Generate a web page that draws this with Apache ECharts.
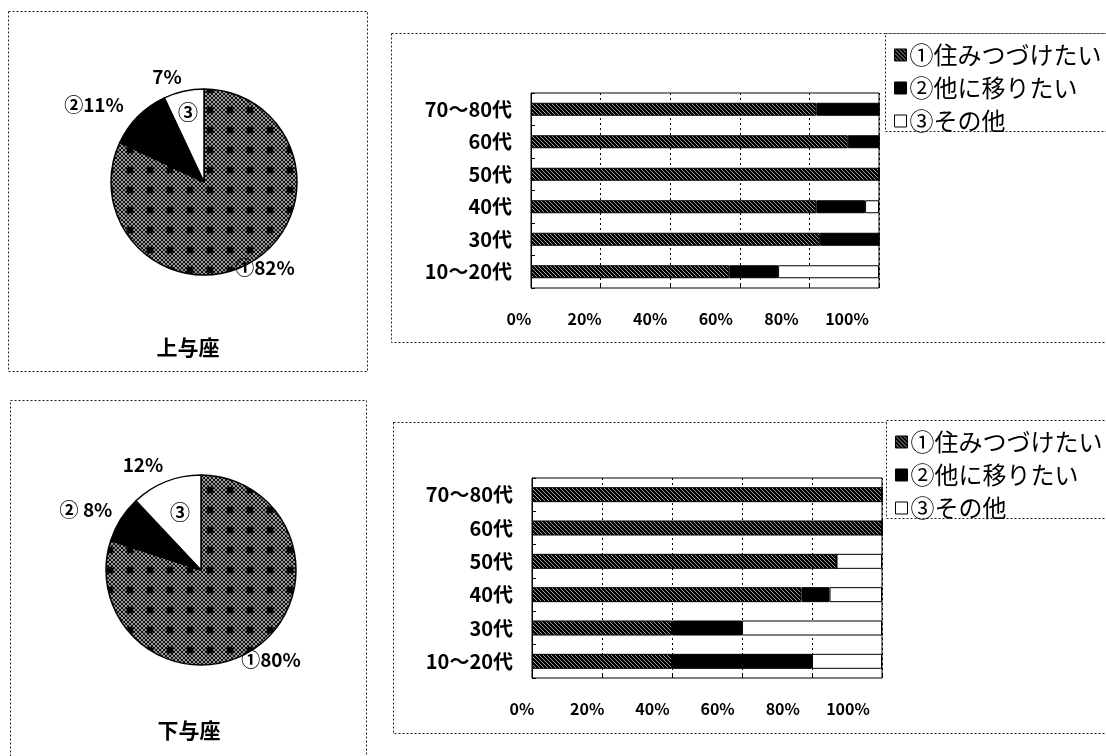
<!DOCTYPE html>
<html>
<head>
<meta charset="utf-8">
<script src="https://cdn.jsdelivr.net/npm/echarts@6/dist/echarts.min.js"></script>
<style>
  html, body { margin: 0; padding: 0; background: #fff; }
  #chart { width: 1106px; height: 756px; }
</style>
</head>
<body>
<div id="chart"></div>
<script>
// Age groups, listed top to bottom
const ageGroups = ['70～80代', '60代', '50代', '40代', '30代', '10～20代'];
const answerNames = ['①住みつづけたい', '②他に移りたい', '③その他'];
const answerMarks = ['①', '②', '③'];
const areaNames = ['上与座', '下与座'];
const percentTicks = [0, 20, 40, 60, 80, 100];

// 上与座: share of each answer per age group (%)
const kamiStay  = [82, 91, 100, 82, 83, 57];
const kamiMove  = [18,  9,   0, 14, 17, 14];
const kamiOther = [ 0,  0,   0,  4,  0, 29];
const kamiTotal = [82, 11, 7];

// 下与座: share of each answer per age group (%)
const shimoStay  = [100, 100, 87, 77, 40, 40];
const shimoMove  = [  0,   0,  0,  8, 20, 40];
const shimoOther = [  0,   0, 13, 15, 40, 20];
const shimoTotal = [80, 8, 12];

const FONT = '"Noto Sans CJK JP", "Noto Sans", sans-serif';

// Fill patterns drawn on small canvases
function barHatch() {
  const c = document.createElement('canvas');
  c.width = c.height = 8;
  const g = c.getContext('2d');
  g.fillStyle = '#000';
  g.fillRect(0, 0, 8, 8);
  g.strokeStyle = '#a0a0a0';
  g.lineWidth = 1;
  g.beginPath();
  for (let k = -8; k <= 16; k += 4) { g.moveTo(k, 0); g.lineTo(k + 8, 8); }
  g.stroke();
  return c;
}
function pieHatch() {
  const s = 20;
  const c = document.createElement('canvas');
  c.width = c.height = s;
  const g = c.getContext('2d');
  g.fillStyle = '#111';
  g.fillRect(0, 0, s, s);
  g.strokeStyle = '#9c9c9c';
  g.lineWidth = 1;
  g.beginPath();
  for (let k = -s; k <= 2 * s; k += 4) {
    g.moveTo(k, 0); g.lineTo(k + s, s);
    g.moveTo(k, s); g.lineTo(k + s, 0);
  }
  g.stroke();
  g.fillStyle = '#000';
  g.beginPath(); g.arc(s / 2, s / 2, 3.6, 0, Math.PI * 2); g.fill();
  return c;
}
const stayBarFill = { image: barHatch(), repeat: 'repeat' };
const stayPieFill = { image: pieHatch(), repeat: 'repeat' };
const answerColors = [stayBarFill, '#000', '#fff'];
const pieColors = [stayPieFill, '#000', '#fff'];

// Layout of the two rows
const rows = [
  {
    stacks: [kamiStay, kamiMove, kamiOther], total: kamiTotal,
    grid: { left: 531, top: 93, width: 348, height: 195 },
    tickGrid: { left: 519, width: 328 }, barWidth: 13,
    pie: { center: [204, 182], r: 93 },
    pieLabelAt: [[265, 268], [94, 105], [167, 77]], innerMarkAt: [188, 112],
    nameAt: [188, 347],
    frames: [[8, 11, 359, 360], [391, 33, 760, 309]],
    legendBox: [885, 33, 260, 98], legendTop: 38
  },
  {
    stacks: [shimoStay, shimoMove, shimoOther], total: shimoTotal,
    grid: { left: 532, top: 478, width: 350, height: 200 },
    tickGrid: { left: 522, width: 326 }, barWidth: 15,
    pie: { center: [201, 570], r: 95 },
    pieLabelAt: [[271, 660], [86, 510], [143, 465]], innerMarkAt: [180, 512],
    nameAt: [189, 730],
    frames: [[10, 400, 356, 400], [393, 422, 760, 311]],
    legendBox: [886, 420, 260, 98], legendTop: 425
  }
];

const grids = [], xAxes = [], yAxes = [], series = [], legends = [], graphics = [];

rows.forEach((row, r) => {
  const gi = grids.length;
  // plot area
  grids.push(Object.assign({ show: true, borderColor: '#000', borderWidth: 1, backgroundColor: '#fff' }, row.grid));
  // strip that carries the percent labels
  grids.push({ left: row.tickGrid.left, width: row.tickGrid.width, top: row.grid.top, height: row.grid.height });

  xAxes.push({
    gridIndex: gi, type: 'value', min: 0, max: 100, interval: 20,
    axisLine: { show: false },
    axisTick: { show: true, inside: true, length: 4, lineStyle: { color: '#000' } },
    axisLabel: { show: false },
    splitLine: { show: true, lineStyle: { color: '#000', type: [2, 3], width: 1 } }
  });
  xAxes.push({
    gridIndex: gi + 1, type: 'value', min: 0, max: 100, interval: 20,
    axisLine: { show: false }, axisTick: { show: false }, splitLine: { show: false },
    axisLabel: {
      margin: 23, color: '#000', fontFamily: FONT, fontWeight: 'bold', fontSize: 16,
      formatter: v => percentTicks.includes(v) ? v + '%' : ''
    }
  });
  yAxes.push({
    gridIndex: gi, type: 'category', data: ageGroups, inverse: true,
    axisLine: { show: true, lineStyle: { color: '#000' } },
    axisTick: { show: true, inside: true, length: 4, lineStyle: { color: '#000' } },
    axisLabel: { margin: 19, color: '#000', fontFamily: FONT, fontWeight: 'bold', fontSize: 20 },
    splitLine: { show: false }
  });
  yAxes.push({ gridIndex: gi + 1, type: 'category', data: ageGroups, show: false });

  row.stacks.forEach((vals, k) => {
    series.push({
      type: 'bar', name: answerNames[k], stack: 'row' + r,
      xAxisIndex: gi, yAxisIndex: gi, barWidth: row.barWidth,
      data: vals,
      itemStyle: { color: answerColors[k], borderColor: '#000', borderWidth: 1 },
      emphasis: { disabled: true }, animation: false
    });
  });

  // pie of all respondents
  const spots = row.pieLabelAt;
  series.push({
    type: 'pie', center: row.pie.center, radius: row.pie.r,
    startAngle: 90, clockwise: true, avoidLabelOverlap: false, animation: false,
    data: row.total.map((v, k) => ({ value: v, name: answerNames[k], itemStyle: { color: pieColors[k] } })),
    itemStyle: { borderColor: '#000', borderWidth: 1.5 },
    label: {
      show: true, position: 'outside', color: '#000', fontFamily: FONT, fontWeight: 'bold', fontSize: 19,
      formatter: p => p.dataIndex === 2 ? p.value + '%'
        : answerMarks[p.dataIndex] + (p.value < 10 ? ' ' : '') + p.value + '%'
    },
    labelLine: { show: false },
    labelLayout: p => ({ x: spots[p.dataIndex][0], y: spots[p.dataIndex][1], align: 'center', verticalAlign: 'middle' }),
    emphasis: { disabled: true }
  });
  // circled number inside the third slice
  const inner = row.innerMarkAt;
  series.push({
    type: 'pie', center: row.pie.center, radius: row.pie.r,
    startAngle: 90, clockwise: true, silent: true, animation: false, avoidLabelOverlap: false,
    data: row.total.map((v, k) => ({
      value: v, name: answerNames[k],
      label: { show: k === 2 }
    })),
    itemStyle: { color: 'rgba(0,0,0,0)', borderWidth: 0 },
    label: {
      position: 'inside', color: '#000', fontFamily: FONT, fontWeight: 'bold', fontSize: 20,
      formatter: p => answerMarks[p.dataIndex]
    },
    labelLine: { show: false },
    labelLayout: () => ({ x: inner[0], y: inner[1], align: 'center', verticalAlign: 'middle' }),
    emphasis: { disabled: true }
  });

  legends.push({
    data: answerNames, orient: 'vertical', left: row.legendBox[0] + 4, top: row.legendTop,
    itemWidth: 12, itemHeight: 12, itemGap: 9, icon: 'rect', selectedMode: false,
    itemStyle: { borderColor: '#000', borderWidth: 1 },
    textStyle: { color: '#000', fontFamily: FONT, fontSize: 24, padding: [0, 0, 0, -2] }
  });

  row.frames.forEach(f => graphics.push({
    type: 'rect', shape: { x: f[0] + 0.5, y: f[1] + 0.5, width: f[2], height: f[3] }, z: -10,
    style: { fill: null, stroke: '#222', lineWidth: 1, lineDash: [2, 2] }, silent: true
  }));
  const lb = row.legendBox;
  graphics.push({
    type: 'rect', shape: { x: lb[0] + 0.5, y: lb[1] + 0.5, width: lb[2], height: lb[3] }, z: 1,
    style: { fill: '#fff', stroke: '#222', lineWidth: 1, lineDash: [2, 2] }, silent: true
  });
  graphics.push({
    type: 'text', x: row.nameAt[0], y: row.nameAt[1], z: 5, silent: true,
    style: { text: areaNames[r], align: 'center', verticalAlign: 'middle',
             font: 'bold 21px ' + FONT, fill: '#000' }
  });
});

const chart = echarts.init(document.getElementById('chart'), null, { renderer: 'canvas' });
chart.setOption({
  animation: false,
  backgroundColor: '#fff',
  grid: grids, xAxis: xAxes, yAxis: yAxes,
  legend: legends, series: series, graphic: graphics
});
</script>
</body>
</html>
